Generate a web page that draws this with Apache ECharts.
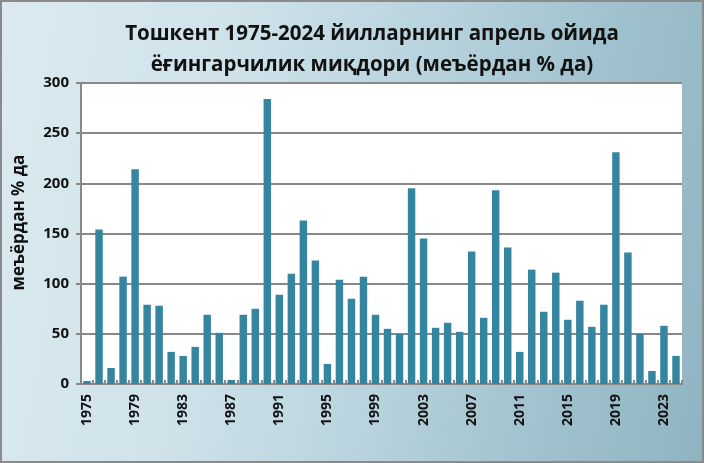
<!DOCTYPE html>
<html><head><meta charset="utf-8">
<script src="https://cdn.jsdelivr.net/npm/echarts@6/dist/echarts.min.js"></script>
<style>
html,body{margin:0;padding:0;}
#wrap{width:704px;height:463px;box-sizing:border-box;border:2px solid #8a8a8a;
background:linear-gradient(100deg,#dbeaf0 0%,#cfe2ea 30%,#b9d4de 55%,#a3c4d0 75%,#8fb4c1 100%);}
#c{width:700px;height:459px;}
</style></head>
<body><div id="wrap"><div id="c"></div></div>
<script>
const years = [];
for (let y = 1975; y <= 2024; y++) years.push(String(y));
const values = [3,154,16,107,214,79,78,32,28,37,69,51,4,69,75,284,89,110,163,123,
  20,104,85,107,69,55,50,195,145,56,61,52,132,66,193,136,32,114,72,111,
  64,83,57,79,231,131,50,13,58,28];
const yTicks = {min:0, max:300, interval:50};
const titleText = 'Тошкент 1975-2024 йилларнинг апрель ойида\nёғингарчилик миқдори (меъёрдан % да)';
const yName = 'меъёрдан % да';

const chart = echarts.init(document.getElementById('c'));
chart.setOption({
  backgroundColor:'transparent',
  animation:false,
  title:{text:titleText,left:365,textAlign:'center',top:12,
    textStyle:{fontFamily:'Open Sans',fontWeight:'bold',fontSize:20.5,lineHeight:31,color:'#111',align:'center'}},
  grid:{left:79,right:20,top:81,bottom:77,show:true,backgroundColor:'#fff',borderWidth:0,
    containLabel:false,outerBoundsMode:'none'},
  xAxis:{type:'category',data:years,
    axisLine:{lineStyle:{color:'#888',width:2}},
    axisTick:{show:true,inside:true,length:4,interval:0,lineStyle:{color:'#888',width:2}},
    axisLabel:{interval:3,rotate:90,fontFamily:'Open Sans',fontWeight:'bold',fontSize:14,color:'#111',margin:10}},
  yAxis:{type:'value',min:yTicks.min,max:yTicks.max,interval:yTicks.interval,
    name:yName,nameLocation:'middle',nameGap:53,nameRotate:90,
    nameTextStyle:{fontFamily:'Open Sans',fontWeight:'bold',fontSize:17,color:'#111',padding:[0,0,0,22]},
    axisLine:{show:true,lineStyle:{color:'#888',width:2}},
    axisTick:{show:true,length:5,lineStyle:{color:'#888',width:2}},
    splitLine:{lineStyle:{color:'#888',width:2}},
    axisLabel:{fontFamily:'Open Sans',fontWeight:'bold',fontSize:15,color:'#111',margin:12}},
  series:[{type:'bar',data:values,barWidth:'62%',itemStyle:{color:'#3585a0'}}]
});
</script></body></html>
